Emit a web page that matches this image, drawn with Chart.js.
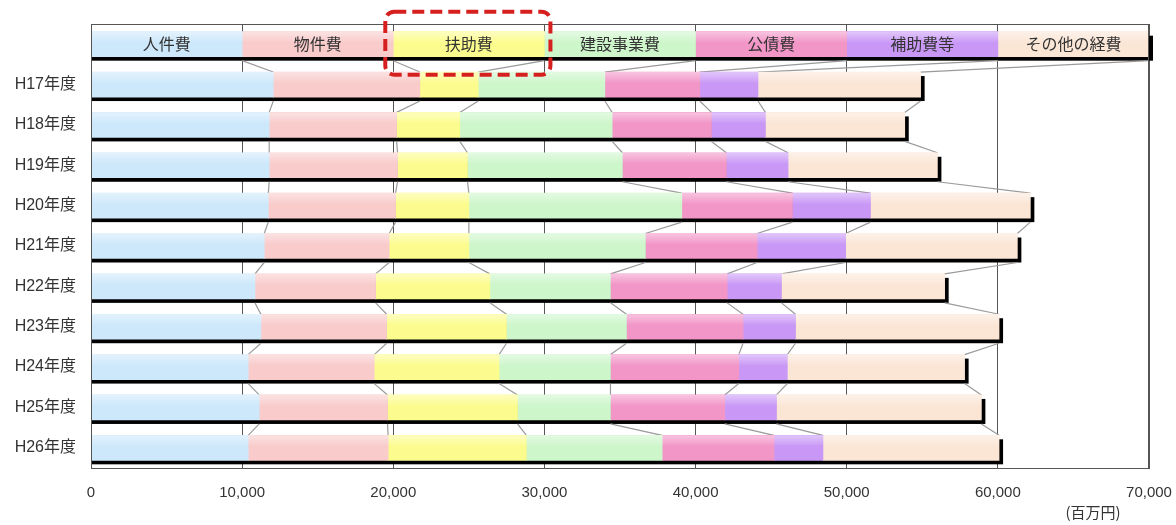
<!DOCTYPE html>
<html>
<head>
<meta charset="utf-8">
<script src="https://cdn.jsdelivr.net/npm/chart.js@4"></script>
<style>
html,body{margin:0;padding:0;background:#fff;}
#wrap{width:1176px;height:525px;position:relative;}
</style>
</head>
<body>
<div id="wrap"><canvas id="c" width="1176" height="525"></canvas></div>
<script>
// ---- data ----
const categories = ['', 'H17年度', 'H18年度', 'H19年度', 'H20年度', 'H21年度', 'H22年度', 'H23年度', 'H24年度', 'H25年度', 'H26年度'];
const seriesNames = ['人件費', '物件費', '扶助費', '建設事業費', '公債費', '補助費等', 'その他の経費'];
const headerRow = [10000, 10000, 10000, 10000, 10000, 10000, 10000];
const jinkenhi   = [12060, 11790, 11790, 11730, 11460, 10850, 11240, 10400, 11130, 10400];
const bukkenhi   = [9700, 8430, 8490, 8420, 8270, 7980, 8320, 8340, 8490, 9260];
const fujohi     = [3860, 4180, 4630, 4850, 5270, 7560, 7930, 8260, 8600, 9150];
const kensetsu   = [8380, 10080, 10250, 14090, 11680, 7980, 7940, 7370, 6150, 8980];
const kousaihi   = [6280, 6570, 6880, 7320, 7390, 7720, 7710, 8490, 7560, 7400];
const hojohi     = [3850, 3570, 4080, 5160, 5860, 3590, 3470, 3210, 3420, 3240];
const sonota     = [10760, 9220, 9880, 10580, 11360, 10800, 13470, 11730, 13560, 11650];
const xTicks = [0, 10000, 20000, 30000, 40000, 50000, 60000, 70000];
const unitLabel = '(百万円)';
const highlightSeries = '扶助費';

const seriesValues = [jinkenhi, bukkenhi, fujohi, kensetsu, kousaihi, hojohi, sonota];
const colors = ['#cde8fb', '#f9cbcb', '#fcfc8e', '#cdf6cb', '#f295c7', '#c998f6', '#fbe6d6'];

const datasets = seriesNames.map((name, k) => ({
  label: name,
  data: [headerRow[k]].concat(seriesValues[k]),
  backgroundColor: colors[k],
  borderWidth: 0,
  barThickness: 25
}));

const SH = 4; // shadow offset

const decor = {
  id: 'decor',
  beforeDatasetsDraw(chart) {
    const ctx = chart.ctx;
    const area = chart.chartArea;
    const n = chart.data.labels.length;
    const metas = chart.data.datasets.map((d, k) => chart.getDatasetMeta(k));
    const last = metas[metas.length - 1];
    ctx.save();
    ctx.fillStyle = '#000';
    for (let i = 0; i < n; i++) {
      const el = last.data[i];
      const h = el.height;
      ctx.fillRect(area.left, el.y - h / 2 + SH, el.x + SH - area.left, h);
    }
    ctx.strokeStyle = '#9a9a9a';
    ctx.lineWidth = 1.2;
    metas.forEach(m => {
      for (let i = 0; i < n - 1; i++) {
        const a = m.data[i], b = m.data[i + 1];
        ctx.beginPath();
        ctx.moveTo(a.x, a.y + a.height / 2 + SH);
        ctx.lineTo(b.x, b.y - b.height / 2);
        ctx.stroke();
      }
    });
    ctx.restore();
  },
  afterDatasetsDraw(chart) {
    const ctx = chart.ctx;
    const area = chart.chartArea;
    const metas = chart.data.datasets.map((d, k) => chart.getDatasetMeta(k));
    ctx.save();
    // bar highlight strip
    metas.forEach(m => {
      m.data.forEach(el => {
        const top = el.y - el.height / 2;
        const g = ctx.createLinearGradient(0, top, 0, top + el.height * 0.45);
        g.addColorStop(0, 'rgba(255,255,255,0.45)');
        g.addColorStop(1, 'rgba(255,255,255,0)');
        ctx.fillStyle = g;
        ctx.fillRect(el.base, top, el.x - el.base, el.height * 0.45);
      });
    });
    // header labels
    ctx.fillStyle = '#333';
    ctx.font = '16px "Noto Sans CJK JP"';
    ctx.textAlign = 'center';
    ctx.textBaseline = 'middle';
    metas.forEach((m, k) => {
      const el = m.data[0];
      ctx.fillText(seriesNames[k], (el.x + el.base) / 2, el.y);
    });
    // plot frame
    ctx.strokeStyle = '#555';
    ctx.lineWidth = 1;
    ctx.strokeRect(area.left + 0.5, area.top + 0.5, area.right - area.left - 1, area.bottom - area.top);
    // highlight dashed box
    const hk = seriesNames.indexOf(highlightSeries);
    const el = metas[hk].data[0];
    const x0 = el.base - 8, x1 = el.x + 6;
    const y0 = el.y - el.height / 2 - 20, y1 = el.y + el.height / 2 + 18;
    ctx.strokeStyle = '#d62020';
    ctx.lineWidth = 4;
    ctx.setLineDash([12, 6]);
    ctx.beginPath();
    if (ctx.roundRect) ctx.roundRect(x0, y0, x1 - x0, y1 - y0, 9); else ctx.rect(x0, y0, x1 - x0, y1 - y0);
    ctx.stroke();
    ctx.setLineDash([]);
    // unit label
    ctx.fillStyle = '#333';
    ctx.font = '15px "Noto Sans CJK JP"';
    ctx.textAlign = 'center';
    ctx.fillText(unitLabel, area.right - 56, 512);
    ctx.restore();
  }
};

new Chart(document.getElementById('c'), {
  type: 'bar',
  data: { labels: categories, datasets },
  options: {
    indexAxis: 'y',
    responsive: false,
    animation: false,
    layout: { padding: { top: 24, right: 27, bottom: 0, left: 0 } },
    plugins: { legend: { display: false }, tooltip: { enabled: false } },
    scales: {
      x: {
        stacked: true,
        min: 0, max: 70000,
        afterBuildTicks(scale) { scale.ticks = xTicks.map(v => ({ value: v })); },
        afterFit(scale) { scale.height = 57; scale.paddingLeft = 0; scale.paddingRight = 0; },
        grid: { color: '#555', lineWidth: 1, drawTicks: false },
        border: { color: '#555' },
        ticks: {
          padding: 16,
          color: '#333',
          font: { family: '"Liberation Sans", Arial, sans-serif', size: 15 },
          callback: v => v.toLocaleString('en-US')
        }
      },
      y: {
        stacked: true,
        afterFit(scale) { scale.width = 91; scale.paddingTop = 0; scale.paddingBottom = 0; },
        grid: { display: false, drawTicks: false },
        border: { color: '#555' },
        ticks: {
          padding: 15,
          color: '#333',
          font: { family: '"Liberation Sans", "Noto Sans CJK JP", sans-serif', size: 16 }
        }
      }
    }
  },
  plugins: [decor]
});
</script>
</body>
</html>
